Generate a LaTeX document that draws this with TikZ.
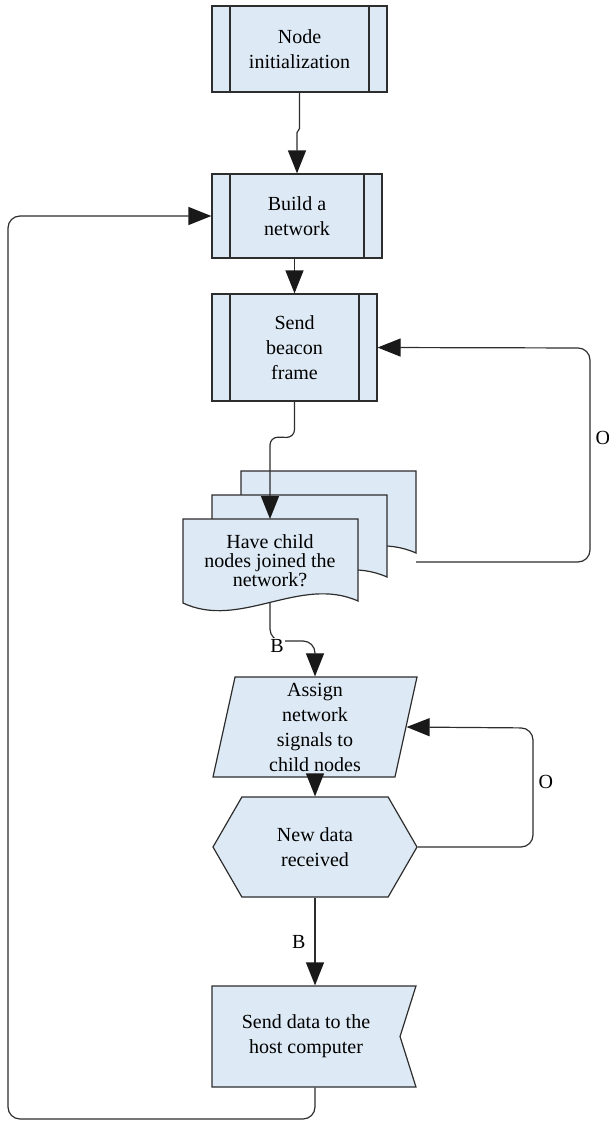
\documentclass[tikz,border=0pt]{standalone}
\usepackage{fontspec}
\setmainfont{Liberation Serif}
\usetikzlibrary{arrows.meta,shapes.geometric,shapes.symbols}

\definecolor{boxfill}{RGB}{221,233,244}
\definecolor{boxline}{RGB}{45,45,45}

\begin{document}
\begin{tikzpicture}[
    x=1pt, y=-1pt,
    >={Triangle[length=23pt,width=18pt,color=black!90]},
    txt/.style={align=center, inner sep=0pt, font=\fontsize{20}{25}\selectfont},
    shp/.style={draw=boxline, fill=boxfill, line width=1.2pt},
    subproc/.style={shp, txt, path picture={
        \draw[boxline, line width=1.2pt]
          ([xshift=18pt]path picture bounding box.north west) -- ([xshift=18pt]path picture bounding box.south west)
          ([xshift=-18pt]path picture bounding box.north east) -- ([xshift=-18pt]path picture bounding box.south east);}},
    conn/.style={draw=boxline, line width=1.2pt},
    lbl/.style={inner sep=1pt, font=\fontsize{20}{25}\selectfont}
    ]
    \useasboundingbox (0,0) rectangle (608,1121);

    % nodes
    \node[subproc, minimum width=175pt, minimum height=86pt] (init) at (299.5,49) {Node\\initialization};
    \node[subproc, minimum width=170pt, minimum height=84pt] (build) at (297,216) {Build a\\network};
    \node[subproc, minimum width=165pt, minimum height=107pt] (beacon) at (294.5,347.5) {Send\\beacon\\frame};

    % stacked documents
    \foreach \dx/\dy in {58/48, 29/24, 0/0}
      \filldraw[shp] (183+\dx,519-\dy) -- (358+\dx,519-\dy) -- (358+\dx,601-\dy)
        .. controls (300+\dx,575-\dy) and (240+\dx,630-\dy) .. (183+\dx,603-\dy) -- cycle;
    \node[txt, font=\fontsize{20}{19}\selectfont] (join) at (270,561) {Have child\\nodes joined the\\network?};
    \coordinate (jointop) at (270,519);
    \coordinate (joinbot) at (270,602);
    \coordinate (joinout) at (416,562);

    \node[shp, txt, trapezium, trapezium left angle=76, trapezium right angle=104,
          trapezium stretches body, minimum width=204pt, minimum height=100pt] (assign) at (315,727)
          {Assign\\network\\signals to\\child nodes};
    \node[shp, txt, signal, signal to=west and east, signal pointer angle=120,
          minimum width=204pt, minimum height=100pt] (newdata) at (315,847) {New data\\received};
    \node[shp, txt, signal, signal to=nowhere, signal from=east, signal pointer angle=145,
          minimum width=204pt, minimum height=101pt] (host) at (306,1036.5) {Send data to the\\host computer};

    % edges
    \draw[conn,->] (init.south) -- ++(0,36) -- ++(-2.5,4) -- (build.north);
    \draw[conn,->] (beacon.north |- build.south) -- (beacon.north);
    \draw[conn,->,rounded corners=8pt] (beacon.south) -- ++(0,36) -- (270,437) -- (jointop);
    \draw[conn,->,rounded corners=12pt] (joinout) -- (590,562)
        -- node[pos=0.58, right=4pt, lbl] (o1) {O} (590,348) -- (beacon.east);
    \draw[conn,->,rounded corners=12pt] (joinbot) -- (270,641) -- (315,641) -- (assign.north);
    \node[lbl, fill=white] (b1) at (277,646) {B};
    \draw[conn,->] (assign.south) -- (newdata.north);
    \draw[conn,->,rounded corners=12pt] (newdata.east) -- (533,847)
        -- node[pos=0.55, right=4pt, lbl] (o2) {O} (533,728) -- (assign.east);
    \draw[conn,->] (newdata.south) -- node[left=8pt, lbl] (b2) {B} (newdata.south |- host.north);
    \draw[conn,->,rounded corners=12pt] (newdata.south |- host.south) -- (315,1119) -- (8,1119) -- (8,216) -- (build.west);

\end{tikzpicture}
\end{document}
